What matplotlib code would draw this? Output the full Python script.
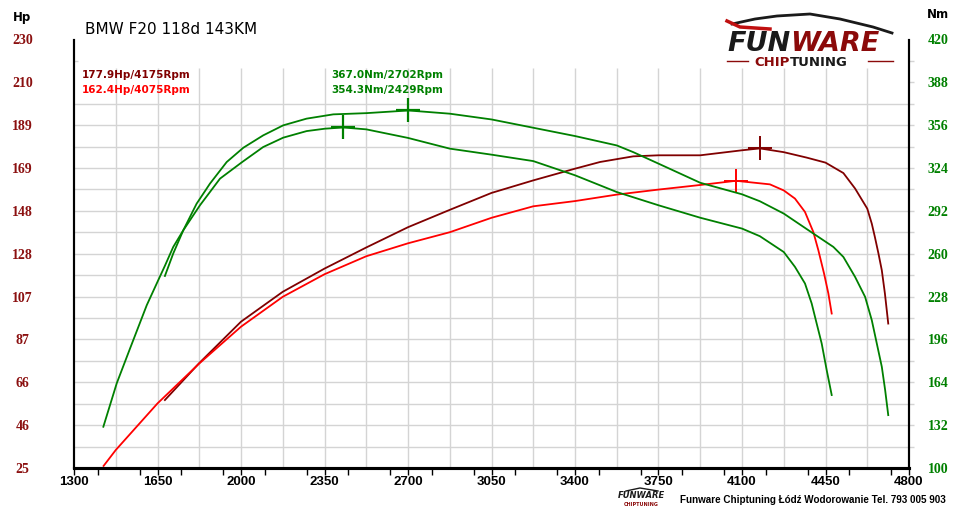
import matplotlib
matplotlib.use("Agg")
import matplotlib.pyplot as plt
from matplotlib.ticker import MultipleLocator, FixedLocator
from matplotlib.lines import Line2D

# stock power (red)
rpm_hp_stock = [1424, 1475, 1650, 1825, 2000, 2175, 2350, 2525, 2700, 2875, 3050, 3225,
                3400, 3575, 3750, 3925, 4075, 4100, 4217, 4275, 4322, 4364, 4399, 4420,
                4444, 4462, 4476]
hp_stock = [26.0, 33.6, 55.9, 75.0, 92.6, 106.9, 117.7, 126.3, 132.5, 137.8, 144.7, 150.2,
            152.7, 155.8, 158.2, 160.4, 162.4, 162.1, 160.7, 157.8, 153.9, 147.5, 137.9, 129.2,
            118.0, 108.5, 98.9]

# tuned power (dark red)
rpm_hp_tuned = [1681, 1825, 2000, 2175, 2350, 2525, 2700, 2875, 3050, 3225, 3400, 3505, 3644,
                3750, 3925, 4100, 4175, 4275, 4371, 4450, 4525, 4574, 4625, 4644, 4657, 4672,
                4686, 4699, 4713]
hp_tuned = [57.5, 75.2, 95.0, 109.3, 120.4, 130.5, 140.2, 148.5, 156.6, 162.6, 168.2, 171.4, 174.1,
            174.6, 174.6, 177.0, 177.9, 176.1, 173.5, 171.1, 166.1, 158.7, 149.1, 141.9, 135.5, 127.6,
            119.6, 108.5, 94.1]

# stock torque
rpm_nm_stock = [1423, 1479, 1535, 1605, 1653, 1681, 1716, 1758, 1828, 1912, 2005, 2093, 2177,
                2275, 2352, 2429, 2525, 2700, 2875, 3050, 3225, 3400, 3575, 3750, 3925, 4100,
                4175, 4275, 4322, 4364, 4392, 4413, 4434, 4455, 4476]
nm_stock = [130.8, 163.2, 189.3, 221.6, 240.2, 251.0, 265.1, 277.5, 296.2, 316.1, 328.5, 339.7, 346.7,
            351.6, 353.4, 354.3, 352.9, 346.5, 338.5, 334.0, 329.2, 318.6, 306.1, 296.2, 286.9, 278.8,
            273.1, 261.3, 250.2, 237.8, 222.9, 207.9, 193.0, 173.1, 154.5]

# tuned torque
rpm_nm_tuned = [1681, 1716, 1758, 1814, 1870, 1940, 2010, 2093, 2177, 2275, 2387, 2525, 2702,
                2875, 3050, 3225, 3400, 3575, 3644, 3750, 3925, 4100, 4175, 4275, 4399, 4483,
                4525, 4574, 4616, 4644, 4665, 4686, 4700, 4713]
nm_tuned = [243.4, 260.2, 277.5, 297.4, 312.4, 328.5, 339.2, 348.4, 355.9, 360.9, 364.1, 365.0, 367.0,
            364.6, 360.3, 354.1, 347.9, 340.9, 335.9, 327.3, 313.0, 304.4, 299.2, 290.0, 275.1, 265.1,
            257.6, 242.7, 227.8, 210.4, 193.0, 175.6, 158.2, 139.5]

# peaks
peak_hp_tuned = (4175, 177.9)
peak_hp_stock = (4075, 162.4)
peak_nm_tuned = (2702, 367.0)
peak_nm_stock = (2429, 354.3)

hp_ticks = [25, 45.5, 66, 86.5, 107, 127.5, 148, 168.5, 189, 209.5, 230]
hp_tick_labels = ["25", "46", "66", "87", "107", "128", "148", "169", "189", "210", "230"]
nm_ticks = [100, 132, 164, 196, 228, 260, 292, 324, 356, 388, 420]
rpm_labels = [1300, 1650, 2000, 2350, 2700, 3050, 3400, 3750, 4100, 4450, 4800]

MAROON = "#800000"
RED = "#ff0000"
GREEN = "#008000"
GRID = "#d4d4d4"
SANS = ["Liberation Sans", "DejaVu Sans"]
SERIF = ["Liberation Serif", "DejaVu Serif"]

W, H = 960, 525
fig = plt.figure(figsize=(9.6, 5.25), dpi=100)


def fx(x):
    return x / W


def fy(y):
    return 1 - y / H


ax = fig.add_axes([fx(74), fy(468), (909 - 74) / W, (468 - 39.5) / H])
ax.set_xlim(1300, 4800)
ax.set_ylim(25, 230)
ax2 = ax.twinx()
ax2.set_ylim(100, 420)

# grid
for r in range(1475, 4800, 175):
    ax.vlines(r, 25, 216.3, color=GRID, lw=1, zorder=0)
for k in range(1, 18):
    ax.hlines(25 + 10.25 * k, 1300, 4822, color=GRID, lw=1, zorder=0, clip_on=False)
for lv in (209.5, 219.75):
    ax.hlines(lv, 4800, 4822, color=GRID, lw=1, zorder=0, clip_on=False)
ax.hlines(219.75, 1300, 1315, color=GRID, lw=1, zorder=0)

# curves
ax.plot(rpm_hp_tuned, hp_tuned, color=MAROON, lw=1.3, zorder=3)
ax.plot(rpm_hp_stock, hp_stock, color=RED, lw=1.3, zorder=3)
ax2.plot(rpm_nm_tuned, nm_tuned, color=GREEN, lw=1.3, zorder=3)
ax2.plot(rpm_nm_stock, nm_stock, color=GREEN, lw=1.3, zorder=3)

ax.plot(*peak_hp_tuned, marker="+", ms=17, mew=1.4, color=MAROON, zorder=4)
ax.plot(*peak_hp_stock, marker="+", ms=17, mew=1.4, color=RED, zorder=4)
ax2.plot(*peak_nm_tuned, marker="+", ms=17, mew=1.6, color=GREEN, zorder=4)
ax2.plot(*peak_nm_stock, marker="+", ms=17, mew=1.6, color=GREEN, zorder=4)

# spines
for a in (ax, ax2):
    a.spines["top"].set_visible(False)
    a.spines["left"].set_linewidth(1.5)
    a.spines["right"].set_linewidth(1.5)
    a.spines["bottom"].set_linewidth(2.2)

# x ticks
ax.xaxis.set_major_locator(FixedLocator(rpm_labels))
ax.xaxis.set_minor_locator(MultipleLocator(175))
ax.set_xticklabels([str(v) for v in rpm_labels])
ax.tick_params(axis="x", which="both", direction="out", length=5, width=1, pad=1)
for t in ax.get_xticklabels():
    t.set_fontfamily(SANS)
    t.set_fontweight("bold")
    t.set_fontsize(9.5)

# y ticks
ax.set_yticks(hp_ticks)
ax.set_yticklabels(hp_tick_labels)
ax.tick_params(axis="y", length=0, pad=37)
for t in ax.get_yticklabels():
    t.set_fontfamily(SERIF)
    t.set_fontweight("bold")
    t.set_fontsize(10)
    t.set_color("#8b1010")
    t.set_horizontalalignment("center")

ax2.set_yticks(nm_ticks)
ax2.set_yticklabels([str(v) for v in nm_ticks])
ax2.tick_params(axis="y", length=0, pad=21)
for t in ax2.get_yticklabels():
    t.set_fontfamily(SERIF)
    t.set_fontweight("bold")
    t.set_fontsize(10)
    t.set_color(GREEN)
    t.set_horizontalalignment("center")

# texts
fig.text(fx(22), fy(17), "Hp", ha="center", va="center", fontsize=8.5, fontweight="bold")
fig.text(fx(938), fy(15), "Nm", ha="center", va="center", fontsize=8.5, fontweight="bold")
fig.text(fx(85), fy(30), "BMW F20 118d 143KM", ha="left", va="center", fontsize=11)

fig.text(fx(82), fy(75), "%.1fHp/%dRpm" % (peak_hp_tuned[1], peak_hp_tuned[0]),
         color=MAROON, fontsize=7.5, fontweight="bold", va="center")
fig.text(fx(82), fy(90), "%.1fHp/%dRpm" % (peak_hp_stock[1], peak_hp_stock[0]),
         color=RED, fontsize=7.5, fontweight="bold", va="center")
fig.text(fx(331), fy(75), "%.1fNm/%dRpm" % (peak_nm_tuned[1], peak_nm_tuned[0]),
         color=GREEN, fontsize=7.5, fontweight="bold", va="center")
fig.text(fx(331), fy(90), "%.1fNm/%dRpm" % (peak_nm_stock[1], peak_nm_stock[0]),
         color=GREEN, fontsize=7.5, fontweight="bold", va="center")

# logo top right
fig.canvas.draw()
rend = fig.canvas.get_renderer()
t1 = fig.text(fx(727), fy(44), "FUN", fontsize=19.5, fontweight="bold", style="italic",
              color="#1a1a1a", va="center", ha="left")
bb = t1.get_window_extent(rend)
fig.text(bb.x1 / W, fy(44), "WARE", fontsize=19.5, fontweight="bold", style="italic",
         color="#8b0a0a", va="center", ha="left")
t2 = fig.text(fx(754), fy(62), "CHIP", fontsize=9.5, fontweight="bold", color="#8b0a0a",
              va="center", ha="left")
bb2 = t2.get_window_extent(rend)
fig.text(bb2.x1 / W, fy(62), "TUNING", fontsize=9.5, fontweight="bold", color="#1a1a1a",
         va="center", ha="left")
fig.add_artist(Line2D([fx(727), fx(748)], [fy(61), fy(61)], color="#8b0a0a", lw=1))
fig.add_artist(Line2D([fx(868), fx(893)], [fy(61), fy(61)], color="#8b0a0a", lw=1))
roof_x = [732, 755, 777, 810, 840, 873, 892]
roof_y = [24, 19, 16, 14, 19, 27, 33]
fig.add_artist(Line2D([fx(v) for v in roof_x], [fy(v) for v in roof_y], color="#1a1a1a", lw=2))
fig.add_artist(Line2D([fx(v) for v in [727, 740, 770]], [fy(v) for v in [21, 27, 29]],
                      color="#c01010", lw=2.5))

# footer
fig.text(fx(641), fy(496), "FUNWARE", fontsize=6, fontweight="bold", style="italic",
         color="#1a1a1a", ha="center", va="center")
fig.text(fx(641), fy(505), "CHIPTUNING", fontsize=3.5, fontweight="bold", color="#8b0a0a",
         ha="center", va="center")
fig.add_artist(Line2D([fx(v) for v in [626, 640, 658]], [fy(v) for v in [491, 488, 491]],
                      color="#1a1a1a", lw=1))
fig.text(fx(680), fy(500), "Funware Chiptuning Łódź Wodorowanie Tel. 793 005 903",
         fontfamily=SANS, fontweight="bold", fontsize=7.1, ha="left", va="center")

fig.savefig("out.png", dpi=100)
